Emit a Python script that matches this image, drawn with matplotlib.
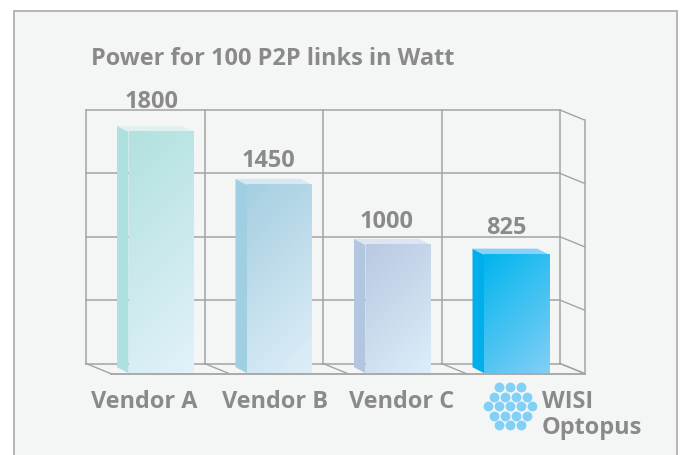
import matplotlib
matplotlib.use('Agg')
import matplotlib.pyplot as plt
from matplotlib.colors import LinearSegmentedColormap
from matplotlib.patches import Polygon, Rectangle
import numpy as np

plt.rcParams['font.family'] = ['Open Sans', 'DejaVu Sans']

# data
title = 'Power for 100 P2P links in Watt'
vendors = ['Vendor A', 'Vendor B', 'Vendor C', 'WISI\nOptopus']
labels = [1800, 1450, 1000, 825]
# heights as drawn, read against the back wall (not quite the labels)
drawn = [1875, 1457, 984, 906]
grid_y = [0, 500, 1000, 1500, 2000]
grid_x = [0, 1, 2, 3, 4]
logo_rows = [3, 4, 5, 4, 3]

front_start = ['#b2e1e0', '#a6cfe1', '#b8c9e2', '#00b5ee']
front_end = ['#e2f2f9', '#deeef8', '#deedf9', '#83cff5']
side_col = ['#aee0df', '#9fcfe0', '#b3c6e0', '#00aeea']
top_col = ['#dff0f0', '#d6e9f2', '#dde5f1', '#8ad0f7']
GREY = '#a3a5a5'
TXT = '#8a8a8a'
FS = 16.9

W, H = 684, 455
X0, YB, PX_X, PX_Y = 86, 363.5, 118.5, 0.12675


def dx(p):
    return p / PX_X


def dy(p):
    return p / PX_Y


def xpx(p):
    return (p - X0) / PX_X


def ypx(p):
    return (YB - p) / PX_Y


fig = plt.figure(figsize=(W / 100, H / 100), dpi=100, facecolor='white')
ax = fig.add_axes([0, 0, 1, 1])
ax.axis('off')

# outer panel, runs off the bottom
ax.add_patch(Rectangle((xpx(14), ypx(470)), dx(663), dy(459), fc='#f4f6f6', ec='#a3a3a3', lw=1.1, zorder=0))

# wall grid
depth_x, depth_y = dx(24.5), dy(10)
for v in grid_y:
    ax.plot([0, 4], [v, v], color=GREY, lw=1.1, zorder=1, solid_capstyle='projecting')
    ax.plot([4, 4 + depth_x], [v, v - depth_y], color=GREY, lw=1.0, zorder=1)
for c in grid_x:
    ax.plot([c, c], [0, 2000], color=GREY, lw=1.1, zorder=1, solid_capstyle='projecting')
    ax.plot([c, c + depth_x], [0, -depth_y], color=GREY, lw=1.0, zorder=1)
ax.plot([4 + depth_x] * 2, [-depth_y, 2000 - depth_y], color=GREY, lw=1.1, zorder=1)
ax.plot([depth_x, 4 + depth_x], [-depth_y, -depth_y], color=GREY, lw=1.3, zorder=1)

# bars
side_w, front_w, bar_off = dx(11.5), dx(65), dx(31)
step_dy = dy(6)
base_back, base_front = -dy(3.7), -dy(9.7)
for i, top in enumerate(drawn):
    xl = i + bar_off
    xm = xl + side_w
    xr = xm + front_w
    ax.add_patch(Polygon([(xl, base_back), (xm, base_front), (xm, top - step_dy), (xl, top)],
                         fc=side_col[i], ec='none', zorder=2))
    ax.add_patch(Polygon([(xl, top), (xl + front_w, top), (xr, top - step_dy), (xm, top - step_dy)],
                         fc=top_col[i], ec='none', zorder=2))
    # diagonal shading at 45 degrees on screen, so the bar's pixel size matters
    h_px = (top - step_dy - base_front) * PX_Y
    yy, xx = np.mgrid[0:1:160j, 0:1:80j]
    grad = (xx * 65 + yy * h_px) / (65 + h_px)
    cmap = LinearSegmentedColormap.from_list('f', [front_start[i], front_end[i]])
    ax.imshow(grad, extent=(xm, xr, base_front, top - step_dy), cmap=cmap, aspect='auto',
              origin='upper', zorder=2, interpolation='bilinear')
ax.set_xlim(xpx(0), xpx(W))
ax.set_ylim(ypx(H), ypx(0))

# texts
style = dict(fontsize=FS, fontweight='bold', color=TXT, va='baseline', zorder=4)
ax.text(xpx(91), ypx(65), title, ha='left', **style)
value_x = [152, 268.5, 387, 506]
value_y = [107.7, 166.7, 227.7, 234.3]
for i, lab in enumerate(labels):
    ax.text(xpx(value_x[i]), ypx(value_y[i]), str(lab), ha='center', **style)
name_x = [144.5, 275.5, 402]
for i in range(3):
    ax.text(xpx(name_x[i]), ypx(408.3), vendors[i], ha='center', **style)
first, second = vendors[3].split('\n')
ax.text(xpx(542), ypx(408.3), first, ha='left', **style)
ax.text(xpx(542), ypx(434), second, ha='left', **style)

# optopus logo
for r, n in enumerate(logo_rows):
    px_x = 510 + (np.arange(n) - (n - 1) / 2) * 11
    px_y = np.full(n, 387.3 + r * 9.5)
    ax.scatter(xpx(px_x), ypx(px_y), s=50, color='#83d0f7', linewidths=0, zorder=4)

fig.savefig('out.png', dpi=100)
